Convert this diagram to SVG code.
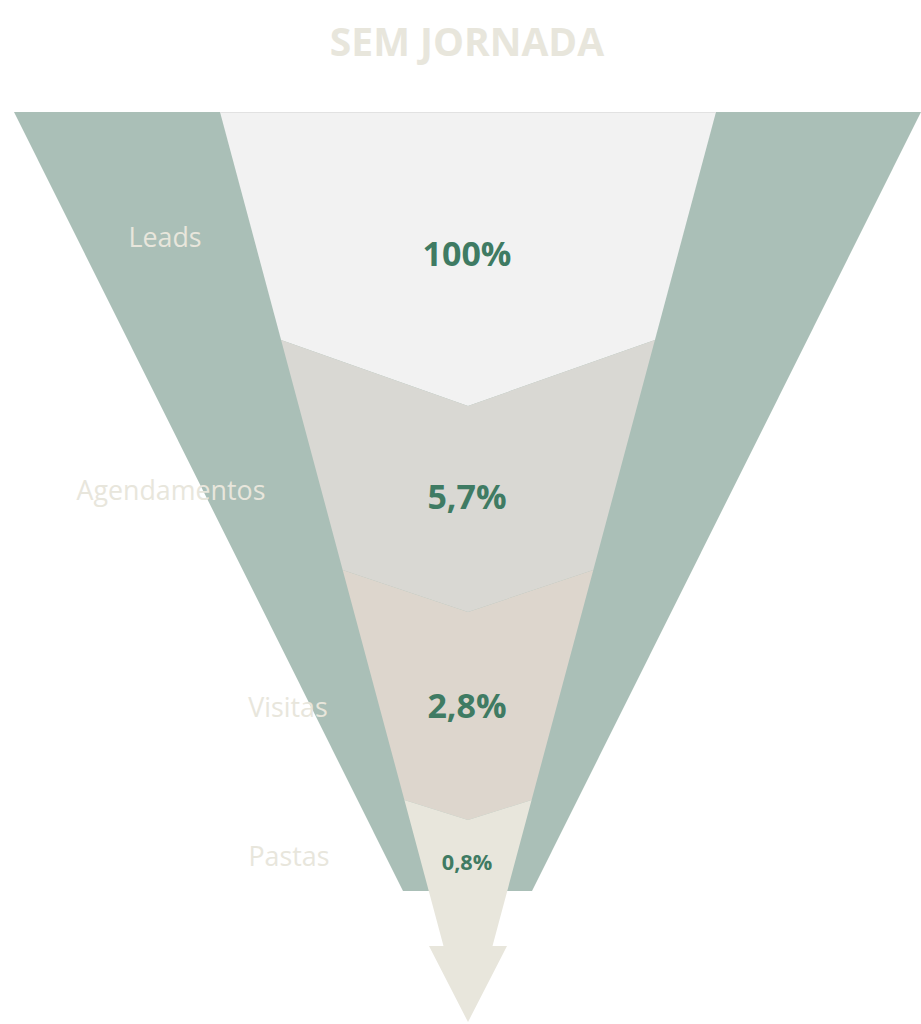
<svg xmlns="http://www.w3.org/2000/svg" width="921" height="1024" viewBox="0 0 921 1024">
<style>
.lbl{font-family:"Open Sans","Liberation Sans",sans-serif;font-size:26.8px;fill:#e8e6dc;text-anchor:middle}
.pct{font-family:"Open Sans","Liberation Sans",sans-serif;font-weight:bold;font-size:34px;fill:#3f7b63;text-anchor:middle}
.title{font-family:"Open Sans","Liberation Sans",sans-serif;font-weight:bold;font-size:39px;fill:#e8e6dc;text-anchor:middle}
</style>
<rect width="921" height="1024" fill="#ffffff"/>
<text class="title" x="467" y="56">SEM JORNADA</text>
<g id="funnel">
<polygon points="14,112 921,112 532,891 403,891" fill="#aabfb7"/>
</g>
<g id="leads">
<polygon points="220,112 716,112 654.9,340 468,406 281.1,340" fill="#f2f2f2"/>
<line x1="220" y1="112.5" x2="716" y2="112.5" stroke="#e2e2e2" stroke-width="1"/>
<text class="lbl" x="165" y="247">Leads</text>
<text class="pct" x="467" y="266">100%</text>
</g>
<g id="agendamentos">
<polygon points="281.1,340 468,406 654.9,340 593.3,570 468,612 342.7,570" fill="#d9d8d3"/>
<text class="lbl" x="171" y="500">Agendamentos</text>
<text class="pct" x="467" y="509">5,7%</text>
</g>
<g id="visitas">
<polygon points="342.7,570 468,612 593.3,570 531.6,800 468,820 404.4,800" fill="#ddd6cd"/>
<text class="lbl" x="288" y="717">Visitas</text>
<text class="pct" x="467" y="718">2,8%</text>
</g>
<g id="pastas">
<polygon points="404.4,800 468,820 531.6,800 492.5,946 507,946 468,1022 429,946 443.5,946" fill="#e8e6dc"/>
<text class="lbl" x="289" y="866">Pastas</text>
<text class="pct" x="467" y="870" style="font-size:21.7px">0,8%</text>
</g>
<g id="connectors"></g>
</svg>
